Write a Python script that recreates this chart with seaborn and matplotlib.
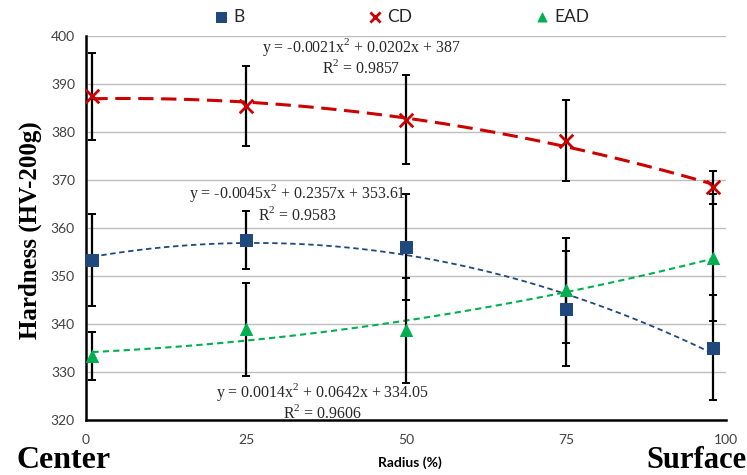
import matplotlib
matplotlib.use("Agg")
import matplotlib.pyplot as plt
import seaborn as sns
import numpy as np

radius = [1, 25, 50, 75, 98]
b_vals = [353.4, 357.5, 356.1, 343.2, 335.1]
b_err = [9.6, 6.1, 11.0, 12.0, 11.0]
cd_vals = [387.4, 385.4, 382.6, 378.2, 368.5]
cd_err = [9.1, 8.3, 9.3, 8.5, 3.4]
ead_vals = [333.3, 338.9, 338.7, 347.0, 353.8]
ead_err = [5.0, 9.7, 10.9, 10.9, 13.2]
x_ticks = [0, 25, 50, 75, 100]
y_ticks = [320, 330, 340, 350, 360, 370, 380, 390, 400]

eq_cd = "y = -0.0021x$^2$ + 0.0202x + 387\nR$^2$ = 0.9857"
eq_b = "y = -0.0045x$^2$ + 0.2357x + 353.61\nR$^2$ = 0.9583"
eq_ead = "y = 0.0014x$^2$ + 0.0642x + 334.05\nR$^2$ = 0.9606"

sns.set_style("white")
plt.rcParams['font.family'] = ['Lato', 'DejaVu Sans']
plt.rcParams['mathtext.fontset'] = 'custom'
plt.rcParams['mathtext.rm'] = 'Liberation Serif'

fig = plt.figure(figsize=(7.47, 4.75), dpi=100)
ax = fig.add_axes([86/747, 1-420/475, (726-86)/747, (420-36)/475])

C_B = "#1F497D"
C_CD = "#CC0000"
C_EAD = "#00B050"

# trend lines
sns.regplot(x=radius, y=cd_vals, order=2, ci=None, scatter=False, ax=ax,
            line_kws=dict(color=C_CD, lw=2.2, ls=(0, (5, 2.5)), zorder=2))
sns.regplot(x=radius, y=b_vals, order=2, ci=None, scatter=False, ax=ax,
            line_kws=dict(color=C_B, lw=1.3, ls=(0, (3, 2)), zorder=2))
sns.regplot(x=radius, y=ead_vals, order=2, ci=None, scatter=False, ax=ax,
            line_kws=dict(color=C_EAD, lw=1.5, ls=(0, (3, 2)), zorder=2))

# error bars
for vals, err in [(cd_vals, cd_err), (b_vals, b_err), (ead_vals, ead_err)]:
    ax.errorbar(radius, vals, yerr=err, fmt='none', ecolor='black',
                elinewidth=1.6, capsize=3, capthick=1.4, zorder=3)

# markers
sns.scatterplot(x=radius, y=b_vals, marker='s', color=C_B, s=85, ax=ax,
                label='B', zorder=4, edgecolor=C_B)
sns.scatterplot(x=radius, y=cd_vals, marker='x', color=C_CD, s=95, ax=ax,
                label='CD', zorder=4, linewidth=2)
sns.scatterplot(x=radius, y=ead_vals, marker='^', color=C_EAD, s=75, ax=ax,
                label='EAD', zorder=4, edgecolor=C_EAD)

ax.set_xlim(0, 100)
ax.set_ylim(320, 400)
ax.set_xticks(x_ticks)
ax.set_yticks(y_ticks)
ax.yaxis.grid(True, color='#BEBEBE', lw=1)
ax.set_axisbelow(True)
for s in ['top', 'right']:
    ax.spines[s].set_visible(False)
for s in ['left', 'bottom']:
    ax.spines[s].set_color('black')
    ax.spines[s].set_linewidth(1.8)
ax.tick_params(axis='both', direction='in', length=5, width=1.5, colors='black',
               labelcolor='#404040', labelsize=10)
ax.tick_params(axis='x', pad=10)
ax.tick_params(axis='y', pad=8)

ax.set_ylabel("")
ax.set_xlabel("")
fig.text(30/747, 1-230/475, "Hardness (HV-200g)", rotation=90, ha='center',
         va='center', family='Liberation Serif', fontweight='bold',
         fontsize=18, color='black')

fig.text(410/747, 1-463/475, "Radius (%)", ha='center', va='center',
         fontsize=10, fontweight='bold', color='black')
fig.text(17/747, 1-461/475, "Center", ha='left', va='center',
         family='Liberation Serif', fontweight='bold', fontsize=23, color='black')
fig.text(746/747, 1-461/475, "Surface", ha='right', va='center',
         family='Liberation Serif', fontweight='bold', fontsize=22, color='black')

tkw = dict(ha='center', va='center', family='Liberation Serif', fontsize=11.4,
           color='#262626', linespacing=1.1, zorder=5)
ax.text(43.0, 395.7, eq_cd, **tkw)
ax.text(33.0, 365.2, eq_b, **tkw)
ax.text(36.9, 323.9, eq_ead, **tkw)

ax.legend_.remove()
handles, labels = ax.get_legend_handles_labels()
fig.legend(handles, labels, loc='center', bbox_to_anchor=(401/747, 1-17/475),
           ncol=3, frameon=False, fontsize=12.5, columnspacing=7.0,
           handletextpad=0.2, handlelength=1.0, markerscale=0.75)

fig.savefig("out.png", dpi=100)
